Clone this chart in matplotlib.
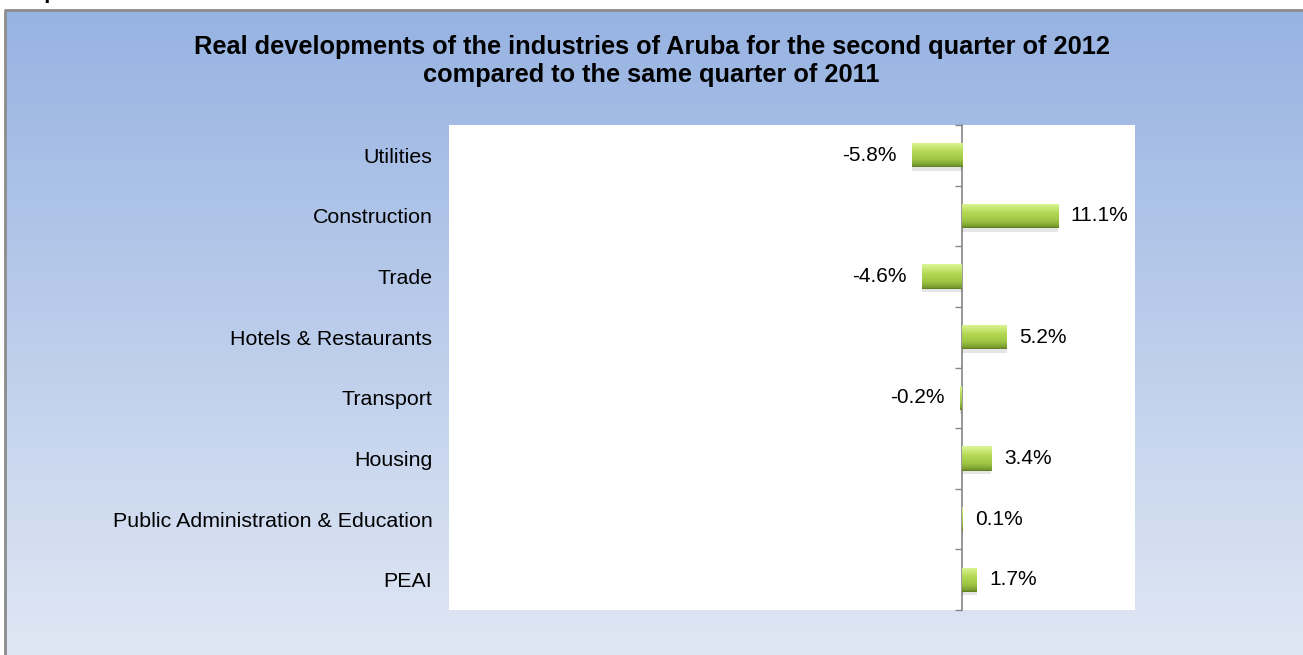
"""
Real developments of the industries of Aruba, Q2 2012 vs Q2 2011.
"""
import numpy as np
import matplotlib.pyplot as plt
from matplotlib.colors import LinearSegmentedColormap
from matplotlib.patches import Rectangle

plt.rcParams['font.family'] = ['Liberation Sans', 'DejaVu Sans']

industries = ['Utilities', 'Construction', 'Trade', 'Hotels & Restaurants',
              'Transport', 'Housing', 'Public Administration & Education', 'PEAI']
growth = [-5.8, 11.1, -4.6, 5.2, -0.2, 3.4, 0.1, 1.7]
value_labels = ['-5.8%', '11.1%', '-4.6%', '5.2%', '-0.2%', '3.4%', '0.1%', '1.7%']
title = ('Real developments of the industries of Aruba for the second quarter of 2012\n'
         'compared to the same quarter of 2011')

fig = plt.figure(figsize=(13.03, 6.55), dpi=100)

# background: white strip on top, then framed blue gradient panel
bg = fig.add_axes([0, 0, 1, 1], zorder=-10)
bg.set_xlim(0, 1)
bg.set_ylim(0, 1)
bg.axis('off')
panel_cmap = LinearSegmentedColormap.from_list('panel', ['#e0e7f4', '#97b3e2'])
grad = np.linspace(0, 1, 256).reshape(-1, 1)
bg.imshow(grad, cmap=panel_cmap, extent=[5 / 1303, 1.2, 0, 1 - 10 / 655],
          origin='lower', aspect='auto')
bg.plot([5 / 1303, 5 / 1303, 1], [0, 1 - 10 / 655, 1 - 10 / 655],
        color='#8c8c8c', lw=2, solid_capstyle='butt')
fig.text(0.005, 1.012, 'Grap', fontsize=16, fontweight='bold', va='center')

fig.text(0.5, 0.907, title, ha='center', va='center', fontsize=18.3,
         fontweight='bold', linespacing=1.25)

ax = fig.add_axes([449 / 1303, 1 - 610 / 655, 686 / 1303, 485 / 655])
ax.set_facecolor('white')
xmin, xmax = -59.3, 20.0
ax.set_xlim(xmin, xmax)
ax.set_ylim(len(industries) - 0.5, -0.5)

ypos = np.arange(len(industries))
bar_h = 0.4
bar_cmap = LinearSegmentedColormap.from_list(
    'bar', ['#5a7820', '#7fa332', '#9fc644', '#b3d853', '#dcf595'])
for y, v in zip(ypos, growth):
    # soft shadow
    ax.add_patch(Rectangle((min(0, v), y - bar_h / 2 + 0.06), abs(v), bar_h,
                           facecolor='#000000', alpha=0.10, lw=0, zorder=1))
    bar = ax.barh(y, v, height=bar_h, color='none', zorder=2)[0]
    im = ax.imshow(np.linspace(0, 1, 64).reshape(-1, 1) ** 0.6, cmap=bar_cmap,
                   extent=[min(0, v), max(0, v), y + bar_h / 2, y - bar_h / 2],
                   origin='lower', aspect='auto', zorder=2)
    im.set_clip_path(bar)

for y, v, lab in zip(ypos, growth, value_labels):
    off = 9 if v >= 0 else -11
    ax.annotate(lab, (v, y), xytext=(off, 0), textcoords='offset points',
                ha='left' if v >= 0 else 'right', va='center', fontsize=15)

ax.set_yticks(ypos)
ax.set_yticklabels(industries, fontsize=15.4)
ax.tick_params(axis='y', length=0, pad=12)
ax.set_xticks([])
for s in ax.spines.values():
    s.set_visible(False)

zero_axis = ax.secondary_yaxis((0 - xmin) / (xmax - xmin))
zero_axis.set_yticks(np.arange(len(industries) + 1) - 0.5)
zero_axis.set_yticklabels([])
zero_axis.tick_params(length=5, color='#868686', width=1, direction='in')
for s in zero_axis.spines.values():
    s.set_color('#868686')
    s.set_linewidth(1.2)

fig.savefig('out.png', dpi=100)
